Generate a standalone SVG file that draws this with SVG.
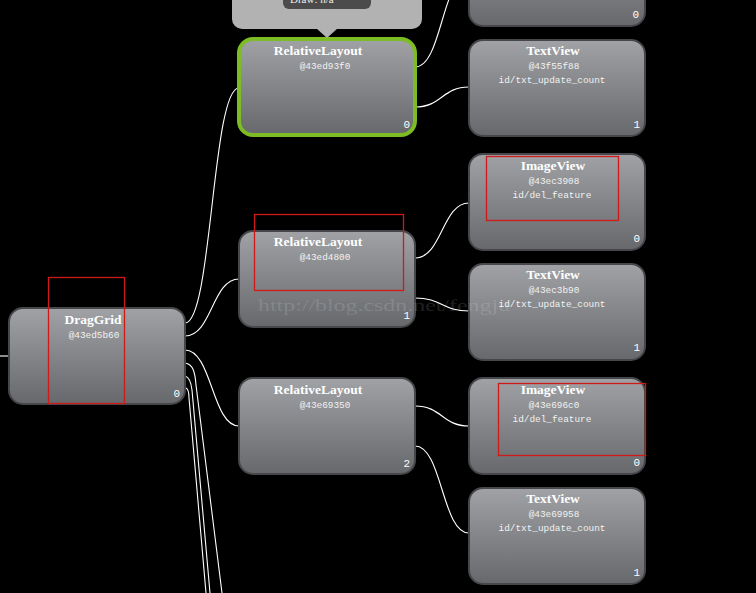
<svg xmlns="http://www.w3.org/2000/svg" width="756" height="593" viewBox="0 0 756 593">
<defs>
<linearGradient id="ng" x1="0" y1="0" x2="0" y2="1">
<stop offset="0" stop-color="#a0a2a5"/>
<stop offset="1" stop-color="#66686c"/>
</linearGradient>
<style>
.node{fill:url(#ng);stroke:#46474a;stroke-width:2}
.sel{fill:url(#ng);stroke:#7cbc24;stroke-width:4}
.t{font-family:"Liberation Serif",serif;font-weight:bold;font-size:13.5px;fill:#fff;text-anchor:middle}
.i{font-family:"Liberation Mono",monospace;font-size:9.4px;fill:#f2f2f2;text-anchor:middle}
.n{font-family:"Liberation Mono",monospace;font-size:11px;fill:#fff;text-anchor:end}
.c{fill:none;stroke:#fff;stroke-width:1.1}
.hl{fill:none;stroke:#d01a1a;stroke-width:1.3}
</style>
</defs>
<rect width="756" height="593" fill="#000"/>
<g id="connectors">
<path class="c" d="M0,356 L9,356"/>
<path class="c" d="M185,323 C212,323 212,88 239,88"/>
<path class="c" d="M185,336 C212,336 212,279 239,279"/>
<path class="c" d="M185,350 C212,350 212,426 239,426"/>
<path class="c" d="M185,363 C193,364 195,372 196,385 L222,593"/>
<path class="c" d="M185,376 C189,377 191,382 192,390 L210,593"/>
<path class="c" d="M186,388 C188,389 189,392 189,398 L206,593"/>
<path class="c" d="M415,67 C442,67 442,-25 469,-25"/>
<path class="c" d="M415,107 C442,107 442,87 469,87"/>
<path class="c" d="M415,258 C442,258 442,203 469,203"/>
<path class="c" d="M415,298 C442,298 442,311 469,311"/>
<path class="c" d="M415,406 C442,406 442,426 469,426"/>
<path class="c" d="M415,446 C442,446 442,533 469,533"/>
</g>
<g id="node-top">
<rect class="node" x="469" y="-70" width="176" height="96" rx="14"/>
<text class="n" x="639" y="18">0</text>
</g>
<g id="node-draggrid">
<rect class="node" x="9" y="308" width="176" height="96" rx="14"/>
<text class="t" x="93" y="324">DragGrid</text>
<text class="i" x="94" y="338">@43ed5b60</text>
<text class="n" x="180" y="397">0</text>
</g>
<g id="node-rl1">
<rect class="sel" x="239" y="39" width="176" height="96" rx="14"/>
<text class="t" x="318" y="55">RelativeLayout</text>
<text class="i" x="325" y="69">@43ed93f0</text>
<text class="n" x="410" y="128">0</text>
</g>
<g id="node-rl2">
<rect class="node" x="239" y="231" width="176" height="96" rx="14"/>
<text class="t" x="318" y="246">RelativeLayout</text>
<text class="i" x="325" y="260">@43ed4800</text>
<text class="n" x="410" y="319">1</text>
</g>
<g id="node-rl3">
<rect class="node" x="239" y="378" width="176" height="96" rx="14"/>
<text class="t" x="318" y="394">RelativeLayout</text>
<text class="i" x="325" y="408">@43e69350</text>
<text class="n" x="410" y="467">2</text>
</g>
<g id="node-tv1">
<rect class="node" x="469" y="40" width="176" height="96" rx="14"/>
<text class="t" x="553" y="55">TextView</text>
<text class="i" x="554" y="69">@43f55f88</text>
<text class="i" x="552" y="83">id/txt_update_count</text>
<text class="n" x="640" y="128">1</text>
</g>
<g id="node-iv1">
<rect class="node" x="469" y="154" width="176" height="96" rx="14"/>
<text class="t" x="553" y="170">ImageView</text>
<text class="i" x="554" y="184">@43ec3908</text>
<text class="i" x="552" y="198">id/del_feature</text>
<text class="n" x="640" y="242">0</text>
</g>
<g id="node-tv2">
<rect class="node" x="469" y="264" width="176" height="96" rx="14"/>
<text class="t" x="553" y="279">TextView</text>
<text class="i" x="554" y="293">@43ec3b90</text>
<text class="i" x="552" y="307">id/txt_update_count</text>
<text class="n" x="640" y="351">1</text>
</g>
<g id="node-iv2">
<rect class="node" x="469" y="378" width="176" height="96" rx="14"/>
<text class="t" x="553" y="394">ImageView</text>
<text class="i" x="554" y="408">@43e696c0</text>
<text class="i" x="552" y="422">id/del_feature</text>
<text class="n" x="640" y="466">0</text>
</g>
<g id="node-tv3">
<rect class="node" x="469" y="488" width="176" height="96" rx="14"/>
<text class="t" x="553" y="503">TextView</text>
<text class="i" x="554" y="517">@43e69958</text>
<text class="i" x="552" y="531">id/txt_update_count</text>
<text class="n" x="640" y="576">1</text>
</g>
<g id="highlights">
<rect class="hl" x="48.5" y="277.5" width="76" height="126"/>
<rect class="hl" x="254.5" y="214.5" width="149" height="76"/>
<rect class="hl" x="486.5" y="156.5" width="132" height="64"/>
<rect class="hl" x="498.5" y="383.5" width="147" height="72"/>
</g>
<g id="tooltip">
<rect x="232" y="-20" width="190" height="49" rx="10" fill="#b2b2b2"/>
<path d="M316,28 L338,28 L327,38 Z" fill="#b2b2b2"/>
<rect x="283" y="-10" width="88" height="19" rx="6" fill="#4b4b4b"/>
<text x="290" y="3" font-family="Liberation Serif,serif" font-size="11px" fill="#eee">Draw: n/a</text>
</g>
<text x="258" y="311" font-family="Liberation Serif,serif" font-size="17px" fill="#fff" fill-opacity="0.14" textLength="252" lengthAdjust="spacingAndGlyphs">http://blog.csdn.net/fengju</text>
</svg>
